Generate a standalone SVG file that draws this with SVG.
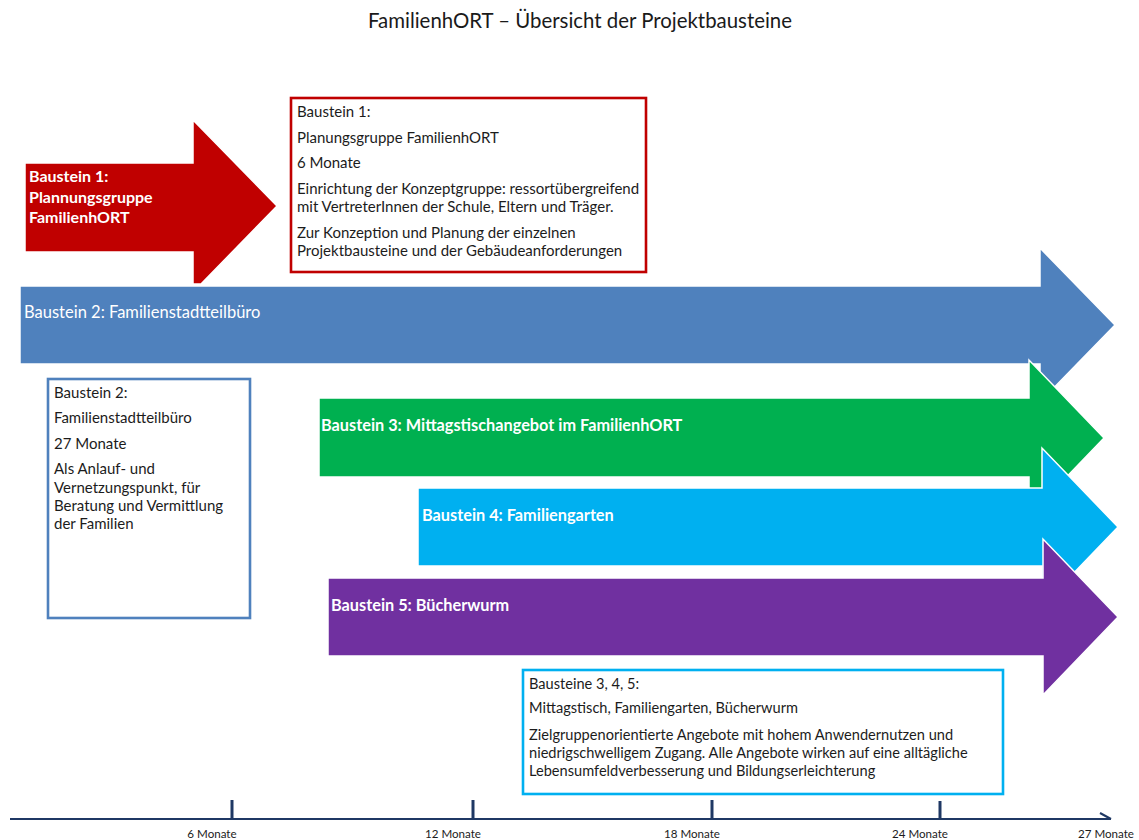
<svg xmlns="http://www.w3.org/2000/svg" width="1139" height="840" viewBox="0 0 1139 840">
<defs>
<style>
text{font-family:Lato,"Liberation Sans",sans-serif;}
.title{font-size:20.4px;fill:#1a1a1a;}
.arrow{stroke:#ffffff;stroke-width:1.5;stroke-linejoin:miter;}
.al{font-size:16.3px;fill:#ffffff;font-weight:bold;}
.al-n{font-size:16.5px;fill:#ffffff;}
.box{fill:#ffffff;stroke-width:2.6;}
.bt{font-size:15px;fill:#1c1c1c;}
.bt2{font-size:14.6px;fill:#1c1c1c;}
.axis{stroke:#1F3864;fill:none;}
.tick{stroke:#1F3864;stroke-width:3;}
.ax{font-size:11.6px;fill:#1c1c1c;text-anchor:middle;}
</style>
</defs>
<rect width="1139" height="840" fill="#ffffff"/>
<text class="title" x="580" y="28" text-anchor="middle">FamilienhORT – Übersicht der Projektbausteine</text>

<g id="arrow-b1">
<path class="arrow" fill="#C00000" d="M25,163 H193 V120 L277,206 L201,284 H193 V252 H25 Z"/>
<text class="al" x="29" y="182" style="font-size:16px">Baustein 1:</text>
<text class="al" x="29" y="203" style="font-size:16px">Plannungsgruppe</text>
<text class="al" x="29" y="223" style="font-size:16px">FamilienhORT</text>
</g>

<g id="box-b1">
<rect class="box" x="291" y="98" width="355" height="174" stroke="#C00000"/>
<text class="bt" x="297" y="117">Baustein 1:</text>
<text class="bt" x="297" y="143">Planungsgruppe FamilienhORT</text>
<text class="bt" x="297" y="168">6 Monate</text>
<text class="bt" x="297" y="194">Einrichtung der Konzeptgruppe: ressortübergreifend</text>
<text class="bt" x="297" y="212">mit VertreterInnen der Schule, Eltern und Träger.</text>
<text class="bt" x="297" y="238">Zur Konzeption und Planung der einzelnen</text>
<text class="bt" x="297" y="256">Projektbausteine und der Gebäudeanforderungen</text>
</g>

<g id="arrow-b2">
<path class="arrow" fill="#4F81BD" d="M20,286 H1040 V248 L1115,325 L1040,402 V364 H20 Z"/>
<text class="al-n" x="24" y="318">Baustein 2: Familienstadtteilbüro</text>
</g>

<g id="box-b2">
<rect class="box" x="48" y="379" width="202" height="239" stroke="#4F81BD"/>
<text class="bt" x="54" y="398">Baustein 2:</text>
<text class="bt" x="54" y="423">Familienstadtteilbüro</text>
<text class="bt" x="54" y="449">27 Monate</text>
<text class="bt" x="54" y="474">Als Anlauf- und</text>
<text class="bt" x="54" y="493">Vernetzungspunkt, für</text>
<text class="bt" x="54" y="511">Beratung und Vermittlung</text>
<text class="bt" x="54" y="529">der Familien</text>
</g>

<g id="arrow-b3">
<path class="arrow" fill="#00B050" d="M319,398 H1029 V360 L1104,438 L1029,516 V477 H319 Z"/>
<text class="al" x="321" y="431">Baustein 3: Mittagstischangebot im FamilienhORT</text>
</g>

<g id="arrow-b4">
<path class="arrow" fill="#00B0F0" d="M418,488 H1042 V448 L1118,527 L1042,606 V566 H418 Z"/>
<text class="al" x="422" y="521">Baustein 4: Familiengarten</text>
</g>

<g id="arrow-b5">
<path class="arrow" fill="#7030A0" d="M328,578 H1043 V539 L1118,617 L1043,695 V656 H328 Z"/>
<text class="al" x="331" y="611">Baustein 5: Bücherwurm</text>
</g>

<g id="box-b345">
<rect class="box" x="523" y="670" width="480" height="124" stroke="#00B0F0"/>
<text class="bt2" x="529" y="689">Bausteine 3, 4, 5:</text>
<text class="bt2" x="529" y="713">Mittagstisch, Familiengarten, Bücherwurm</text>
<text class="bt2" x="529" y="740">Zielgruppenorientierte Angebote mit hohem Anwendernutzen und</text>
<text class="bt2" x="529" y="758">niedrigschwelligem Zugang. Alle Angebote wirken auf eine alltägliche</text>
<text class="bt2" x="529" y="776">Lebensumfeldverbesserung und Bildungserleichterung</text>
</g>

<g id="timeline">
<line class="axis" x1="10" y1="819" x2="1111" y2="819" stroke-width="2"/>
<polyline class="axis" points="1100,813 1111,819" stroke-width="2"/>
<line class="tick" x1="232" y1="800" x2="232" y2="819"/>
<line class="tick" x1="473" y1="800" x2="473" y2="819"/>
<line class="tick" x1="712" y1="800" x2="712" y2="819"/>
<line class="tick" x1="940" y1="801" x2="940" y2="819"/>
<text class="ax" x="212" y="838">6 Monate</text>
<text class="ax" x="453" y="838">12 Monate</text>
<text class="ax" x="692" y="838">18 Monate</text>
<text class="ax" x="920" y="838">24 Monate</text>
<text class="ax" x="1106" y="838">27 Monate</text>
</g>
</svg>
